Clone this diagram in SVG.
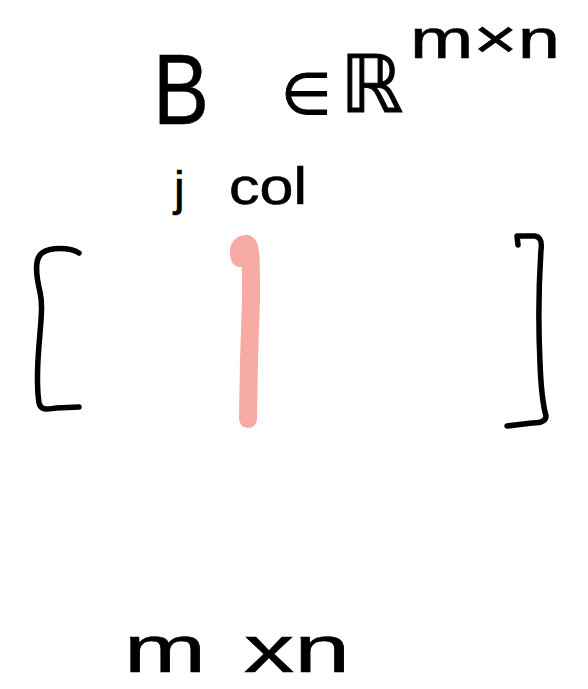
<svg xmlns="http://www.w3.org/2000/svg" width="588" height="689" viewBox="0 0 588 689">
<style>
.ink{fill:none;stroke:#000;stroke-width:5.5;stroke-linecap:round;stroke-linejoin:round}
.hl{fill:none;stroke:#F6ABA4;stroke-width:18;stroke-linecap:round;stroke-linejoin:round}
.t{font-family:"Liberation Sans","DejaVu Sans",sans-serif;fill:#000;stroke:#000;stroke-width:0.6}
.m{font-family:"DejaVu Sans","Liberation Sans",sans-serif;fill:#000;stroke:#000;stroke-width:1}
</style>
<rect width="588" height="689" fill="#fff"/>
<text class="t" x="153" y="124" font-size="100" textLength="56" lengthAdjust="spacingAndGlyphs">B</text>
<text class="m" x="281" y="114" font-size="58">∈</text>
<text class="m" x="340" y="112" font-size="80">ℝ</text>
<text class="t" x="410" y="58" font-size="56" textLength="150" lengthAdjust="spacingAndGlyphs">m×n</text>
<text class="t" x="174" y="205" font-size="48">j</text>
<text class="t" x="229" y="204" font-size="52" textLength="78" lengthAdjust="spacingAndGlyphs">col</text>
<path class="ink" d="M79,253 C70,247 50,247 42,253 C34,259 36,275 40,292 C43,305 41,320 39,345 C37,370 37,390 39,403 C41,411 48,409 56,408 L79,407"/>
<path class="ink" d="M518,245 L517,236 L535,236 C541,237 542,242 541,250 C539,280 538,320 540,363 C541,390 543,405 546,416 C546,421 540,423 532,423 L507,426"/>
<path class="hl" d="M240,258 C237,250 240,243 247,244 C251,246 251,260 251,300 L249,360 L248,419"/>
<text class="t" x="124" y="672" font-size="66" textLength="82" lengthAdjust="spacingAndGlyphs">m</text>
<text class="t" x="244" y="672" font-size="66" textLength="106" lengthAdjust="spacingAndGlyphs">xn</text>
</svg>
